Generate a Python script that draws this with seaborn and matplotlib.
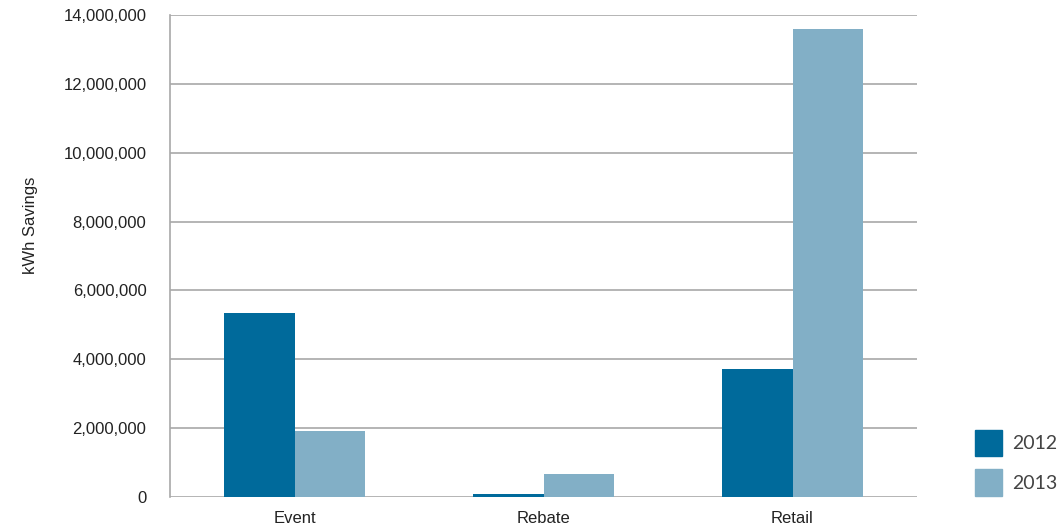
import matplotlib
matplotlib.use("Agg")
import matplotlib.pyplot as plt
import matplotlib.patches as mpatches
from matplotlib.ticker import FuncFormatter
import seaborn as sns
import pandas as pd

categories = ["Event", "Rebate", "Retail"]
years = ["2012", "2013"]
values_2012 = [5340000, 95000, 3730000]
values_2013 = [1920000, 655000, 13600000]
yticks = [0, 2000000, 4000000, 6000000, 8000000, 10000000, 12000000, 14000000]
colors = ["#006a9b", "#82afc6"]

df = pd.DataFrame({
    "Category": categories * 2,
    "Year": [years[0]] * 3 + [years[1]] * 3,
    "kWh": values_2012 + values_2013,
})

sns.set_theme(style="white")
plt.rcParams["font.family"] = ["Liberation Sans", "DejaVu Sans"]

fig = plt.figure(figsize=(10.58, 5.31), dpi=100)
ax = fig.add_axes([170/1058, 34/531, (917-170)/1058, (497-15)/531])

sns.barplot(data=df, x="Category", y="kWh", hue="Year", palette=colors,
            width=0.57, ax=ax, saturation=1, legend=False, zorder=3,
            linewidth=0, edgecolor="none")

ax.set_ylim(0, 14000000)
ax.set_yticks(yticks)
ax.yaxis.set_major_formatter(FuncFormatter(lambda v, p: f"{int(v):,}"))
ax.set_xlim(-0.5, 2.5)
ax.grid(axis="y", color="#a8a8a8", linewidth=1.2, zorder=0)
ax.set_axisbelow(True)
for s in ["top", "right", "bottom"]:
    ax.spines[s].set_visible(False)
ax.spines["left"].set_color("#a8a8a8")
ax.spines["left"].set_linewidth(1.2)
ax.tick_params(axis="both", length=0, labelsize=12, colors="#222222")
ax.tick_params(axis="x", pad=10)
ax.tick_params(axis="y", pad=17)
ax.set_xlabel("")
ax.set_ylabel("kWh Savings", fontsize=12, color="#222222")
ax.yaxis.set_label_coords(-0.187, 0.564)
ax.yaxis.label.set_verticalalignment("center")

handles = [mpatches.Patch(color=c, label=y) for c, y in zip(colors, years)]
leg = fig.legend(handles=handles, loc="upper left",
                 bbox_to_anchor=(957/1058, 1 - 412/531), frameon=False,
                 prop={"family": ["Lato", "DejaVu Sans"], "size": 14},
                 handlelength=1.4, handleheight=1.75, handletextpad=0.55,
                 labelspacing=0.66, labelcolor="#444444")

fig.savefig("out.png", dpi=100)
